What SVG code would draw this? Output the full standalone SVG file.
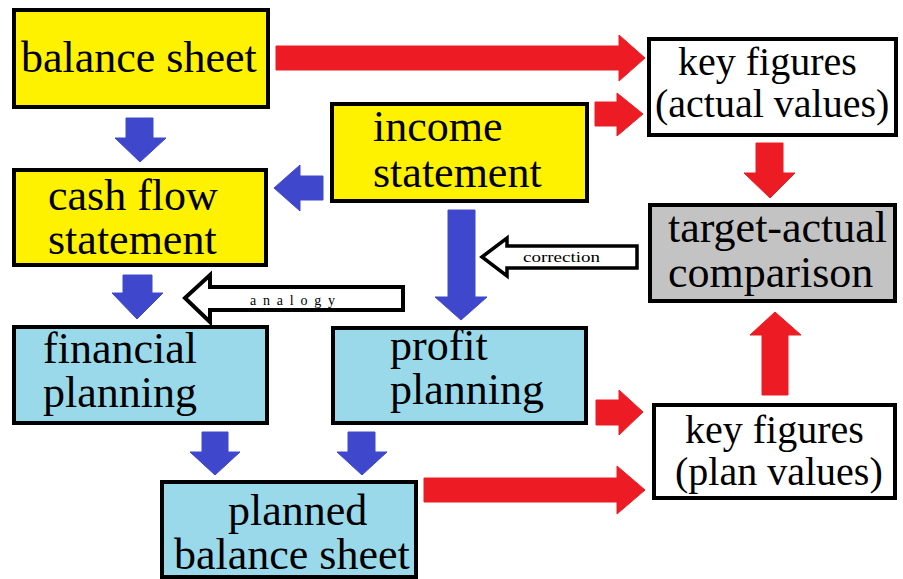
<svg xmlns="http://www.w3.org/2000/svg" width="903" height="579" viewBox="0 0 903 579">
<style>
.box{stroke:#000;stroke-width:4}
.y{fill:#fff200}
.b{fill:#99d9ea}
.w{fill:#fff}
.g{fill:#c3c3c3}
.t{font-family:"Liberation Serif","Times New Roman",serif;font-size:44px;fill:#000}
.k{font-size:40px}
.red{fill:#ed1c24;stroke:#ed1c24;stroke-width:1;stroke-linejoin:round}
.blue{fill:#3f48cc;stroke:#3f48cc;stroke-width:1;stroke-linejoin:round}
.hollow{fill:#fff;stroke:#000;stroke-width:4;stroke-linejoin:miter}
.s{font-family:"Liberation Serif","Times New Roman",serif;font-size:14px;fill:#000}
</style>
<rect width="903" height="579" fill="#fff"/>
<g id="connectors">
<polygon class="red" points="276,46 619,46 619,35 645,58 619,81 619,70 276,70"/>
<polygon class="red" points="595,102 617,102 617,93 643,114 617,136 617,126 595,126"/>
<polygon class="red" points="756,143 783,143 783,173 795,173 770,198 744,173 756,173"/>
<polygon class="red" points="762,395 762,335 750,335 775,312 801,335 788,335 788,395"/>
<polygon class="red" points="596,400 619,400 619,390 643,412 619,435 619,425 596,425"/>
<polygon class="red" points="424,478 617,478 617,466 645,490 617,514 617,502 424,502"/>
<polygon class="blue" points="126,118 153,118 153,138 166,138 140,162 115,138 126,138"/>
<polygon class="blue" points="323,176 323,200 300,200 300,211 274,188 300,165 300,176"/>
<polygon class="blue" points="123,275 152,275 152,293 163,293 137,319 112,293 123,293"/>
<polygon class="blue" points="448,210 475,210 475,297 487,297 461,320 435,297 448,297"/>
<polygon class="blue" points="202,432 228,432 228,452 240,452 215,475 190,452 202,452"/>
<polygon class="blue" points="348,432 375,432 375,452 387,452 362,475 337,452 348,452"/>
<g id="analogy">
<polygon class="hollow" points="185,298 210,275 210,287 403,287 403,310 210,310 210,322"/>
<text class="s" x="250" y="305" textLength="85" lengthAdjust="spacing">analogy</text>
</g>
<g id="correction">
<polygon class="hollow" style="stroke-width:3.5" points="482,257 507,238 507,246 637,246 637,268 507,268 507,276"/>
<text class="s" x="523" y="262" textLength="77" lengthAdjust="spacingAndGlyphs">correction</text>
</g>
</g>
<g id="balance-sheet">
<rect class="box y" x="14" y="10" width="254" height="97"/>
<text class="t" x="21" y="72">balance sheet</text>
</g>
<g id="cash-flow-statement">
<rect class="box y" x="14" y="170" width="252" height="95"/>
<text class="t" x="48" y="210">cash flow</text>
<text class="t" x="48" y="254">statement</text>
</g>
<g id="income-statement">
<rect class="box y" x="332" y="104" width="255" height="97"/>
<text class="t" x="373" y="141">income</text>
<text class="t" x="373" y="187">statement</text>
</g>
<g id="financial-planning">
<rect class="box b" x="14" y="327" width="253" height="96"/>
<text class="t" x="43" y="363">financial</text>
<text class="t" x="43" y="407">planning</text>
</g>
<g id="profit-planning">
<rect class="box b" x="333" y="328" width="253" height="95"/>
<text class="t" x="390" y="360">profit</text>
<text class="t" x="390" y="404">planning</text>
</g>
<g id="planned-balance-sheet">
<rect class="box b" x="162" y="482" width="254" height="95"/>
<text class="t" x="228" y="525">planned</text>
<text class="t" x="174" y="569">balance sheet</text>
</g>
<g id="key-figures-actual">
<rect class="box w" x="649" y="39" width="247" height="96"/>
<text class="t k" x="678" y="75">key figures</text>
<text class="t k" x="655" y="117">(actual values)</text>
</g>
<g id="target-actual-comparison">
<rect class="box g" x="650" y="205" width="245" height="96"/>
<text class="t" x="668" y="242">target-actual</text>
<text class="t" x="668" y="287">comparison</text>
</g>
<g id="key-figures-plan">
<rect class="box w" x="654" y="405" width="241" height="93"/>
<text class="t k" x="685" y="443">key figures</text>
<text class="t k" x="675" y="485">(plan values)</text>
</g>
</svg>
